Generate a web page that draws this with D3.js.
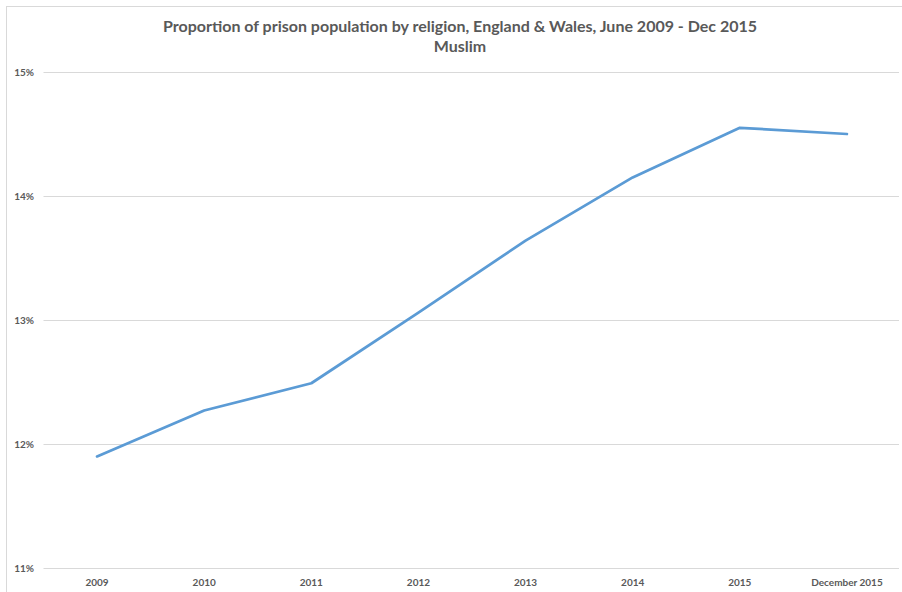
<!DOCTYPE html>
<html><head><meta charset="utf-8">
<script src="https://cdn.jsdelivr.net/npm/d3@7"></script>
<style>body{margin:0;background:#fff;} svg{display:block;}</style>
</head><body>
<svg id="c" width="902" height="592"></svg>
<script>
const categories = ["2009","2010","2011","2012","2013","2014","2015","December 2015"];
const muslimShare = [11.90, 12.27, 12.49, 13.06, 13.64, 14.15, 14.55, 14.50];
const yTicks = [11, 12, 13, 14, 15];
const titleLines = ["Proportion of prison population by religion, England & Wales, June 2009 - Dec 2015", "Muslim"];

const svg = d3.select("#c");
const font = "Lato, 'Open Sans', sans-serif";
const grey = "#595959";

// chart border
svg.append("rect").attr("x", 6.5).attr("y", 6.5).attr("width", 1000).attr("height", 1000)
  .attr("fill", "none").attr("stroke", "#d9d9d9").attr("stroke-width", 1);

const x = d3.scaleBand().domain(categories).range([43.5, 900.5]).padding(0);
const y = d3.scaleLinear().domain([11, 15]).range([568, 72]);

// gridlines
svg.append("g").selectAll("line").data(yTicks).join("line")
  .attr("x1", 43.5).attr("x2", 899)
  .attr("y1", d => Math.round(y(d)) + 0.5).attr("y2", d => Math.round(y(d)) + 0.5)
  .attr("stroke", "#d9d9d9").attr("stroke-width", 1);

// y labels
svg.append("g").selectAll("text").data(yTicks).join("text")
  .attr("x", 34).attr("y", d => y(d) + 3.5)
  .attr("text-anchor", "end").attr("font-family", font).attr("font-weight", "bold")
  .attr("font-size", 10).attr("fill", grey).text(d => d + "%");

// x labels
svg.append("g").selectAll("text").data(categories).join("text")
  .attr("x", d => x(d) + x.bandwidth() / 2).attr("y", 586)
  .attr("text-anchor", "middle").attr("font-family", font).attr("font-weight", "bold")
  .attr("font-size", 10).attr("fill", grey).text(d => d);

// line
const line = d3.line().x((d, i) => x(categories[i]) + x.bandwidth() / 2).y(d => y(d));
svg.append("path").datum(muslimShare).attr("d", line)
  .attr("fill", "none").attr("stroke", "#5B9BD5").attr("stroke-width", 2.75)
  .attr("stroke-linejoin", "round").attr("stroke-linecap", "round");

// title
svg.append("g").selectAll("text").data(titleLines).join("text")
  .attr("x", 460).attr("y", (d, i) => 32 + i * 20)
  .attr("text-anchor", "middle").attr("font-family", font).attr("font-weight", "bold")
  .attr("font-size", 16).attr("fill", grey).text(d => d);
</script>
</body></html>
